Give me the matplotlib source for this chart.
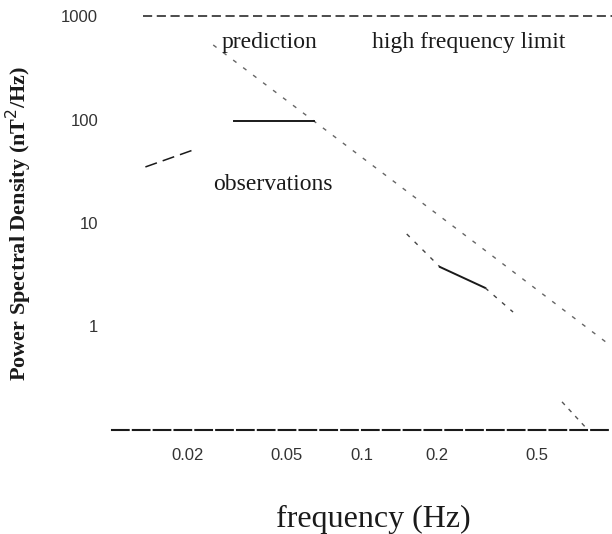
import numpy as np
import matplotlib
matplotlib.use("Agg")
import matplotlib.pyplot as plt

# --- datos (escala log-log) ---
# observaciones, tramo bajo de frecuencia (discontinuo) y meseta (sólido)
obs_low_f = [0.0136, 0.0211]
obs_low_psd = [34.8, 50.7]
obs_flat_f = [0.0307, 0.0640]
obs_flat_psd = [97, 97]

# observaciones a alta frecuencia: punteado / sólido / punteado
obs_hi_f = [0.151, 0.205, 0.311, 0.402]
obs_hi_psd = [7.83, 3.76, 2.36, 1.38]

# caída brusca cerca de 0.7 Hz
cut_f = [0.631, 0.802]
cut_psd = [0.187, 0.10]

# predicción (recta en log-log)
pred_f = [0.0254, 0.1, 0.3, 0.982]
pred_psd = [525, 43, 5.8, 0.66]

# línea superior
top_f = [0.0133, 1.0]
top_psd = [1000, 1000]

xticks = [0.02, 0.05, 0.1, 0.2, 0.5]
xticklabels = ["0.02", "0.05", "0.1", "0.2", "0.5"]
yticks = [1, 10, 100, 1000]
yticklabels = ["1", "10", "100", "1000"]

# --- figura ---
fig = plt.figure(figsize=(6.12, 5.34), dpi=100)
ax = fig.add_axes([112/612, (534-430)/534, 500/612, 414/534])

ax.set_xscale("log")
ax.set_yscale("log")
ax.set_xlim(0.01, 1.0)
ax.set_ylim(0.1, 1000)

ink = "#1a1a1a"

ax.plot(pred_f, pred_psd, color="#666666", lw=1.0, ls=(0, (3, 6)))
ax.plot(obs_low_f, obs_low_psd, color=ink, lw=1.1, ls=(0, (8, 4)))
ax.plot(obs_flat_f, obs_flat_psd, color=ink, lw=1.4)
ax.plot(obs_hi_f[:2], obs_hi_psd[:2], color="#444444", lw=1.0, ls=(0, (3, 5)))
ax.plot(obs_hi_f[1:3], obs_hi_psd[1:3], color=ink, lw=1.4)
ax.plot(obs_hi_f[2:], obs_hi_psd[2:], color="#444444", lw=1.0, ls=(0, (3, 5)))
ax.plot(cut_f, cut_psd, color="#555555", lw=1.0, ls=(0, (3, 4)), clip_on=False)
ax.plot(top_f, top_psd, color=ink, lw=1.1, ls=(0, (6, 3)), clip_on=False)

for s in ["left", "right", "top"]:
    ax.spines[s].set_visible(False)
ax.spines["bottom"].set_linewidth(1.5)
ax.spines["bottom"].set_linestyle((0, (8, 2)))
ax.spines["bottom"].set_color(ink)

ax.set_xticks(xticks)
ax.set_xticklabels(xticklabels)
ax.set_yticks(yticks)
ax.set_yticklabels(yticklabels)
ax.minorticks_off()
ax.tick_params(length=0, labelsize=12, colors="#333333")
ax.tick_params(axis="x", pad=13)
ax.tick_params(axis="y", pad=10)
for lab in ax.get_xticklabels() + ax.get_yticklabels():
    lab.set_family("Liberation Sans")

serif = "Liberation Serif"
ax.text(0.22, 0.923, "prediction", transform=ax.transAxes, fontsize=17,
        family=serif, va="baseline", color=ink)
ax.text(0.52, 0.923, "high frequency limit", transform=ax.transAxes, fontsize=17,
        family=serif, va="baseline", color=ink)
ax.text(0.202, 0.58, "observations", transform=ax.transAxes, fontsize=17,
        family=serif, va="baseline", color=ink)

ax.set_xlabel("frequency (Hz)", fontsize=23, family=serif, color=ink, x=0.522,
              labelpad=30)
ax.set_ylabel(r"Power Spectral Density (nT$^2$/Hz)", fontsize=16, family=serif,
              fontweight="bold", color=ink)
ax.yaxis.set_label_coords(-0.155, 0.5)

fig.savefig("out.png", dpi=100)
